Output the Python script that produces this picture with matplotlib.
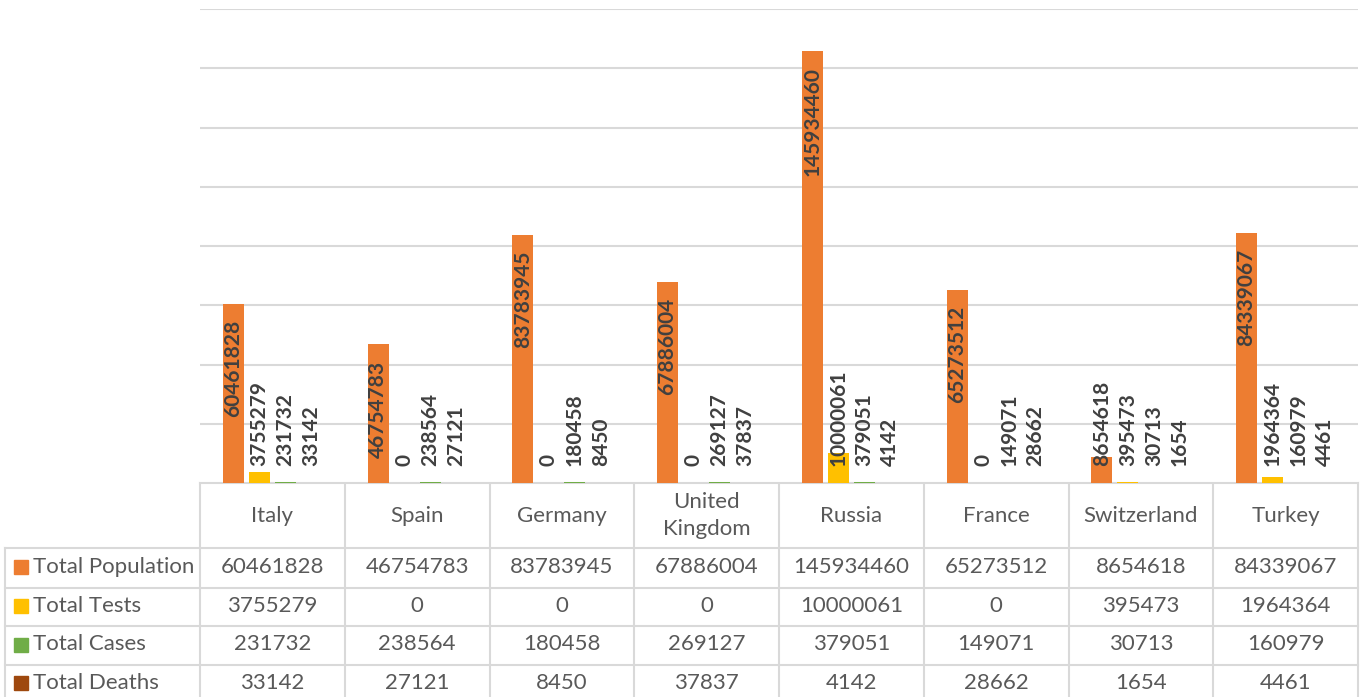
import matplotlib.pyplot as plt
import numpy as np
from matplotlib.patches import Rectangle

plt.rcParams['font.family'] = ['Lato', 'DejaVu Sans']

# data
countries = ['Italy', 'Spain', 'Germany', 'United\nKingdom', 'Russia', 'France', 'Switzerland', 'Turkey']
series_names = ['Total Population', 'Total Tests', 'Total Cases', 'Total Deaths']
population = [60461828, 46754783, 83783945, 67886004, 145934460, 65273512, 8654618, 84339067]
tests = [3755279, 0, 0, 0, 10000061, 0, 395473, 1964364]
cases = [231732, 238564, 180458, 269127, 379051, 149071, 30713, 160979]
deaths = [33142, 27121, 8450, 37837, 4142, 28662, 1654, 4461]
colors = ['#ED7D31', '#FFC000', '#70AD47', '#9E480E']

all_series = [population, tests, cases, deaths]

W, H = 1363, 697
fig = plt.figure(figsize=(W / 100, H / 100), dpi=100)

# plot area in pixel units (top-down)
left, right, top, base = 200, 1358, 9, 483
ax = fig.add_axes([left / W, 1 - base / H, (right - left) / W, (base - top) / H])
ax.set_xlim(-0.5, len(countries) - 0.5)
ax.set_ylim(0, 160_000_000)
ax.set_yticks(np.arange(0, 160_000_001, 20_000_000))
ax.set_yticklabels([])
ax.tick_params(length=0)
ax.set_xticks([])
ax.grid(axis='y', color='#d9d9d9', lw=1.5)
ax.set_axisbelow(True)
for s in ax.spines.values():
    s.set_visible(False)

x = np.arange(len(countries))
step = 0.18
width = 0.145
labels = []
for i, (vals, c) in enumerate(zip(all_series, colors)):
    xs = x + (i - 1.5) * step
    ax.bar(xs, vals, width=width, color=c, zorder=2)
    for xi, v in zip(xs, vals):
        t = ax.annotate(str(v), xy=(xi, v), xytext=(0, -16), textcoords='offset pixels',
                        rotation=90, ha='center', va='top', fontsize=15,
                        fontweight='bold', color='#404040', zorder=3)
        labels.append((t, xi))

# labels that do not fit inside the bar sit just above the baseline
fig.canvas.draw()
r = fig.canvas.get_renderer()
base_px = H - base
for t, xi in labels:
    bb = t.get_window_extent(r)
    if bb.y0 < base_px + 17:
        t.xy = (xi, 0)
        t.set_position((0, 17))
        t.set_va('bottom')

# data table drawn in pixel coordinates
tab = fig.add_axes([0, 0, 1, 1], zorder=-1)
tab.set_xlim(0, W)
tab.set_ylim(H, 0)
tab.axis('off')

col_edges = np.linspace(left, right, len(countries) + 1)
row_edges = [483, 548, 588, 626, 665, 705]
line_kw = dict(color='#d9d9d9', lw=1.5)

tab.plot([left, right], [row_edges[0]] * 2, **line_kw)
for y in row_edges[1:-1]:
    tab.plot([5, right], [y, y], **line_kw)
for xe in col_edges:
    tab.plot([xe, xe], [row_edges[0], H + 5], **line_kw)
tab.plot([5, 5], [row_edges[1], H + 5], **line_kw)

txt_kw = dict(fontsize=16, color='#595959', ha='center', va='center')
for j, name in enumerate(countries):
    cx = (col_edges[j] + col_edges[j + 1]) / 2
    tab.text(cx, (row_edges[0] + row_edges[1]) / 2, name, linespacing=1.4, **txt_kw)

for i, (name, vals, c) in enumerate(zip(series_names, all_series, colors)):
    cy = (row_edges[i + 1] + row_edges[i + 2]) / 2 - 1
    if i == 3:
        cy = 683
    tab.add_patch(Rectangle((14, cy - 7), 14, 14, color=c))
    tab.text(33, cy, name, fontsize=16, color='#595959', ha='left', va='center')
    for j, v in enumerate(vals):
        cx = (col_edges[j] + col_edges[j + 1]) / 2
        tab.text(cx, cy, str(v), **txt_kw)

fig.savefig('out.png', dpi=100)
